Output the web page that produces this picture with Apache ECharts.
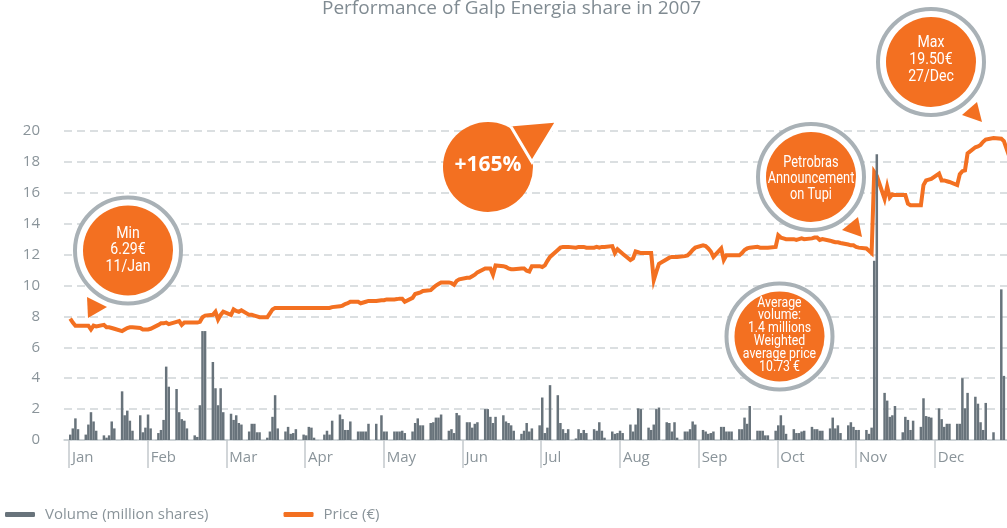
<!DOCTYPE html>
<html>
<head>
<meta charset="utf-8">
<title>Performance of Galp Energia share in 2007</title>
<script src="https://cdn.jsdelivr.net/npm/echarts@6/dist/echarts.min.js"></script>
<style>
  html, body { margin: 0; padding: 0; background: #fff; }
  #chart { width: 1007px; height: 528px; }
</style>
</head>
<body>
<div id="chart"></div>
<script>
// month labels of the x axis
const months = ['Jan', 'Feb', 'Mar', 'Apr', 'May', 'Jun', 'Jul', 'Aug', 'Sep', 'Oct', 'Nov', 'Dec'];

// one entry per weekday, Mon 1 Jan 2007 .. Mon 31 Dec 2007 (null = no trading)
// daily volume, million shares
const volume = [
  null, 0.35, 0.75, 1.4, 0.7,   0.35, 1.0, 1.8, 1.2, 0.6,   0.3, 0.15, 0.3, 1.2, 0.75,
  3.15, 1.6, 1.9, 1.25, 0.6,    1.6, 0.5, 0.8, 1.65, 0.75,                         // Jan
  0.45, 0.65, 1.3, 4.75, 3.45,  3.3, 1.8, 1.35, 1.25, 0.75,  0.3, 0.2, 2.25, 7.05, 7.05,
  5.05, 3.35, 2.25, 3.35, 1.8,                                                     // Feb
  1.7, 1.3, 1.6, 1.1, 1.0,      0.55, 1.05, 1.05, 0.5, 0.5,  0.15, 0.55, 1.5, 2.9, 0.75,
  0.55, 0.85, 0.4, 0.45, 0.7,                                                      // Mar
  0.35, 0.3, 0.85, 0.8, 0.15,   null, 0.35, 0.6, 0.35, 1.25, 1.65, 1.35, 0.65, 0.65, 1.2,
  0.55, 0.55, 0.55, 0.55, 1.05, 1.05, null, 1.6, 0.55, 0.55,                       // Apr
  0.55, 0.55, 0.55, 0.6, 0.45,  0.55, 1.1, 1.4, 0.95, 0.95,  1.1, 1.15, 1.45, 1.45, 1.65,
  0.6, 0.7, 0.45, 1.75, 1.6,                                                       // May
  1.15, 1.15, 0.8, 1.05, 1.15,  2.0, 2.0, 1.5, 1.1, 1.5,     1.6, 1.2, 1.1, 0.95, 0.6,
  0.4, 0.6, 1.1, 0.55, 0.75,                                                       // Jun
  0.95, 2.75, 0.45, 0.8, 3.55,  2.9, 1.1, 0.7, 0.45, 0.7,    0.1, 0.7, 0.45, 0.65, 0.45,
  0.7, 0.6, 1.15, 0.6, 0.15,    0.55, 0.4, 0.45, 0.6, 0.45,                        // Jul
  1.0, 0.55, 1.0, 2.05, 2.0,    0.8, 0.65, 1.0, 2.0, 2.1,    1.15, 1.1, 0.55, 1.15, 0.15,
  0.55, 0.55, 0.7, 1.2, 1.0,                                                       // Aug
  0.65, 0.55, 0.4, 0.45, 0.55,  0.85, 0.85, 0.55, 0.55, 0.55, 0.7, 0.7, 1.45, 1.05, 2.2,
  0.6, 0.6, 0.6, 0.3, 0.3,                                                         // Sep
  0.6, 0.95, 1.6, 0.95, 0.4,    0.7, 0.45, 0.45, 0.55, 0.6,  0.85, 0.7, 0.7, 0.6, 0.6,
  0.75, 1.45, 0.75, 0.95, 0.45, 0.95, 1.15, 0.85, 0.65, 0.65,                      // Oct
  0.65, 0.4, 0.8, 11.6, 18.5,   3.05, 2.55, 1.5, 1.6, 2.2,   0.5, 1.5, 1.3, 0.65, 1.25,
  0.85, 2.7, 1.55, 1.5, 1.45,                                                      // Nov
  2.05, 1.35, 0.85, 1.05, 1.05, 1.05, 1.05, 4.0, 2.05, 3.05, 2.8, 2.35, 1.15, 0.65, 2.4,
  0.5, null, null, 9.75, 4.15,  null                                               // Dec
];

// daily closing price, euro
const price = [
  null, 7.85, 7.6, 7.4, 7.4,    7.4, 7.4, 7.15, 7.4, 7.35,   7.45, 7.3, 7.3, 7.25, 7.2,
  7.05, 7.15, 7.25, 7.3, 7.3,   7.25, 7.15, 7.15, 7.15, 7.2,                       // Jan
  7.45, 7.55, 7.55, 7.6, 7.5,   7.65, 7.7, 7.45, 7.6, 7.6,   7.6, 7.6, 7.65, 7.95, 8.05,
  8.1, 8.3, 7.8, 8.1, 8.3,                                                         // Feb
  8.1, 8.45, 8.35, 8.3, 8.4,    8.1, 8.1, 8.05, 8.0, 7.95,   7.95, 8.2, 8.45, 8.55, 8.55,
  8.55, 8.55, 8.55, 8.55, 8.55,                                                    // Mar
  8.55, 8.55, 8.55, 8.55, 8.55, null, 8.55, 8.55, 8.55, 8.6, 8.65, 8.7, 8.8, 8.85, 8.95,
  8.95, 8.85, 8.9, 8.95, 9.0,   9.0, null, 9.05, 9.05, 9.1,                        // Apr
  9.1, 9.12, 9.15, 9.15, 8.95,  9.2, 9.45, 9.5, 9.55, 9.65,  9.7, 9.85, 10.0, 10.1, 10.2,
  10.2, 10.15, 10.05, 10.3, 10.4,                                                  // May
  10.5, 10.5, 10.6, 10.7, 10.85, 11.1, 11.1, 11.1, 10.7, 11.3, 11.25, 11.2, 11.1, 11.05, 11.05,
  11.1, 11.1, 10.95, 10.9, 11.25,                                                  // Jun
  11.25, 11.2, 11.3, 11.6, 11.85, 12.3, 12.45, 12.5, 12.5, 12.5, 12.45, 12.5, 12.5, 12.5, 12.45,
  12.45, 12.5, 12.45, 12.5, 12.5, 12.55, 12.1, 12.35, 12.2, 12.05,                 // Jul
  11.65, 11.75, 12.2, 12.15, 12.1, 12.1, 12.1, 10.35, 10.9, 11.4, 11.7, 11.8, 11.85, 11.85, 11.85,
  11.9, 11.95, 12.1, 12.3, 12.45,                                                  // Aug
  12.6, 12.55, 12.4, 12.2, 11.85, 12.4, 11.65, 11.95, 11.95, 11.95, 11.95, 12.1, 12.3, 12.4, 12.45,
  12.5, 12.45, 12.45, 12.45, 12.45,                                                // Sep
  12.5, 13.25, 13.1, 13.05, 13.0, 13.0, 12.95, 13.0, 13.05, 13.0, 13.05, 13.1, 13.1, 12.95, 13.0,
  12.9, 12.85, 12.8, 12.8, 12.75, 12.65, 12.6, 12.6, 12.5, 12.45,                  // Oct
  12.4, 12.25, 12.1, 17.35, 17.1, 15.6, 16.4, 15.7, 15.9, 15.85, 15.85, 15.85, 15.3, 15.2, 15.2,
  15.2, 16.5, 16.8, 16.85, 16.9,                                                   // Nov
  17.25, 16.8, 16.8, 16.75, 16.7, 16.5, 17.2, 17.4, 17.45, 18.55, 18.95, 19.0, 19.1, 19.3, 19.45,
  19.55, null, null, 19.5, 19.35, 17.9                                             // Dec
];

const ORANGE = '#f37021';
const BAR = '#68737b';
const RING = '#a9b1b6';
const TEXT = '#8a949a';
const FONT = '"Open Sans", "Noto Sans", sans-serif';
const NARROW = 'Roboto, "Noto Sans", sans-serif';

// weekday index -> days since 1 Jan (weekends left empty)
const volumeData = [];
const priceData = [];
for (let i = 0; i < price.length; i++) {
  const day = Math.floor(i / 5) * 7 + (i % 5);
  if (volume[i] != null) volumeData.push([day, volume[i]]);
  if (price[i] != null) priceData.push([day, price[i]]);
}

// month ticks are evenly spaced in the original
const MONTH = 30.35;
const monthTicks = months.map((m, i) => 0.5 + i * MONTH);

// ringed orange bubble with condensed white text
function bubble(cx, cy, ty, lines, size, lh, sx) {
  return [
    { type: 'circle', z: 100, shape: { cx: cx, cy: cy, r: 53 }, style: { fill: '#fff', stroke: RING, lineWidth: 4 } },
    { type: 'circle', z: 101, shape: { cx: cx, cy: cy, r: 45 }, style: { fill: ORANGE } },
    { type: 'text', z: 102, x: cx, y: ty, scaleX: sx, style: {
      text: lines.join('\n'), fill: '#fff', font: size + 'px ' + NARROW,
      align: 'center', verticalAlign: 'middle', lineHeight: lh } }
  ];
}

function pointer(points) {
  return { type: 'polygon', z: 100, shape: { points: points }, style: { fill: ORANGE } };
}

const chart = echarts.init(document.getElementById('chart'));

chart.setOption({
  animation: false,
  title: {
    text: 'Performance of Galp Energia share in 2007',
    left: 322,
    top: -1,
    padding: 0,
    textStyle: { color: '#808b92', fontSize: 19, fontWeight: 'normal', fontFamily: FONT }
  },
  legend: {
    left: 5,
    top: 507,
    padding: 0,
    icon: 'roundRect',
    itemWidth: 30,
    itemHeight: 5,
    itemGap: 75,
    textStyle: { color: TEXT, fontSize: 15, fontFamily: FONT, padding: [0, 0, 0, 5] },
    data: ['Volume (million shares)', 'Price (€)']
  },
  grid: { left: 64, right: 0, top: 131, bottom: 88 },
  xAxis: {
    type: 'value',
    min: -1.4,
    max: 362.2,
    axisLine: { lineStyle: { color: '#c9cfd3', width: 1.5 } },
    axisTick: { show: true, customValues: monthTicks, length: 28, lineStyle: { color: '#c3c9cd', width: 1.5 } },
    axisLabel: {
      customValues: monthTicks,
      color: TEXT, fontSize: 15, fontFamily: FONT, align: 'left', margin: 10, padding: [0, 0, 0, 3],
      formatter: function (v) { return months[Math.round((v - 0.5) / MONTH)]; }
    },
    splitLine: { show: false }
  },
  yAxis: {
    type: 'value',
    min: 0,
    max: 20,
    interval: 2,
    axisLine: { show: false },
    axisTick: { show: false },
    axisLabel: { color: TEXT, fontSize: 15, fontFamily: FONT, margin: 24 },
    splitLine: { lineStyle: { color: '#d0d5d8', width: 1.5, type: [8, 5] } }
  },
  series: [
    {
      name: 'Volume (million shares)',
      type: 'bar',
      data: volumeData,
      barWidth: 2.5,
      itemStyle: { color: BAR },
      z: 3
    },
    {
      name: 'Price (€)',
      type: 'line',
      data: priceData,
      showSymbol: false,
      connectNulls: true,
      lineStyle: { color: ORANGE, width: 4, join: 'miter' },
      itemStyle: { color: ORANGE },
      z: 2
    }
  ],
  graphic: [].concat(
    pointer([[87, 297], [107, 307], [88, 318]]),
    bubble(128, 250.5, 250, ['Min', '6.29€', '11/Jan'], 16, 16.5, 0.88),
    { type: 'circle', z: 100, shape: { cx: 488, cy: 167, r: 45 }, style: { fill: ORANGE } },
    { type: 'polygon', z: 101, shape: { points: [[510, 125], [557, 121], [532, 162]] },
      style: { fill: ORANGE, stroke: '#fff', lineWidth: 3 } },
    { type: 'text', z: 102, x: 488, y: 165, style: {
      text: '+165%', fill: '#fff', font: 'bold 21px ' + FONT, align: 'center', verticalAlign: 'middle' } },
    pointer([[842, 230], [858, 217], [862, 237]]),
    bubble(811, 177, 179, ['Petrobras', 'Announcement', 'on Tupi'], 16, 16, 0.8),
    pointer([[962, 115], [977, 102], [982, 122]]),
    bubble(931, 62, 60, ['Max', '19.50€', '27/Dec'], 16, 16.7, 0.88),
    bubble(779.5, 336.5, 335, ['Average', 'volume:', '1.4 millions', 'Weighted', 'average price', '10.73 €'], 14.5, 12.8, 0.85)
  )
});
</script>
</body>
</html>
